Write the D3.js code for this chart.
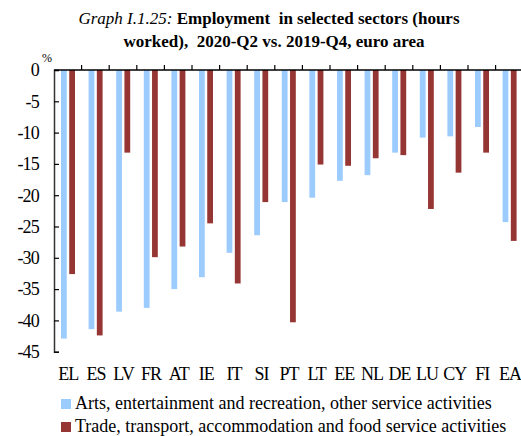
<!DOCTYPE html>
<html>
<head>
<meta charset="utf-8">
<script src="https://cdn.jsdelivr.net/npm/d3@7/dist/d3.min.js"></script>
<style>
  body { margin: 0; background: #fff; }
  svg text { font-family: 'Liberation Serif', Tinos, 'Times New Roman', 'DejaVu Serif', serif; fill: #000; }
</style>
</head>
<body>
<div id="chart"></div>
<script>
// data
const countries = ["EL","ES","LV","FR","AT","IE","IT","SI","PT","LT","EE","NL","DE","LU","CY","FI","EA"];
const arts  = [-42.9,-41.4,-38.6,-38.0,-35.0,-33.1,-29.2,-26.4,-21.1,-20.4,-17.7,-16.8,-13.2,-10.8,-10.6,-9.1,-24.3];
const trade = [-32.6,-42.4,-13.2,-29.9,-28.2,-24.5,-34.1,-21.1,-40.3,-15.1,-15.3,-14.1,-13.6,-22.2,-16.4,-13.2,-27.3];
const yTicks = [0,-5,-10,-15,-20,-25,-30,-35,-40,-45];
const seriesNames = ["Arts, entertainment and recreation, other service activities",
                     "Trade, transport, accommodation and food service activities"];
const keys = ["arts","trade"];
const colours = ["#9ccbfd","#963634"];

const data = countries.map((c, i) => ({ country: c, arts: arts[i], trade: trade[i] }));

const W = 521, H = 436;
const plotLeft = 54, plotTop = 70, plotBottom = 351.7;
const serif = "'Liberation Serif', Tinos, 'Times New Roman', 'DejaVu Serif', serif";

const svg = d3.select("#chart").append("svg")
    .attr("width", W)
    .attr("height", H)
    .attr("font-family", serif);

// title
const title = svg.append("text")
    .attr("text-anchor", "middle")
    .attr("font-family", serif)
    .attr("font-size", 17);
const l1 = title.append("tspan").attr("x", 269).attr("y", 24);
l1.append("tspan").attr("font-style", "italic").text("Graph I.1.25: ");
l1.append("tspan").attr("font-weight", "bold").text("Employment\u00a0 in selected sectors (hours");
title.append("tspan").attr("x", 274).attr("y", 47)
    .attr("font-weight", "bold")
    .text("worked),\u00a0 2020-Q2 vs. 2019-Q4, euro area");

// scales
const x0 = d3.scaleBand()
    .domain(countries)
    .range([plotLeft, plotLeft + countries.length * 27.6])
    .padding(0);

const x1 = d3.scaleBand()
    .domain(keys)
    .range([7, 21])
    .paddingInner(0.3);

const y = d3.scaleLinear()
    .domain([-45, 0])
    .range([plotBottom, plotTop]);

const colour = d3.scaleOrdinal().domain(keys).range(colours);

// bars
const groups = svg.append("g")
    .selectAll("g")
    .data(data)
    .enter().append("g")
    .attr("transform", d => "translate(" + x0(d.country) + ",0)");

groups.selectAll("rect")
    .data(d => keys.map(key => ({ key: key, value: d[key] })))
    .enter().append("rect")
    .attr("x", d => x1(d.key))
    .attr("y", y(0))
    .attr("width", x1.bandwidth())
    .attr("height", d => y(d.value) - y(0))
    .attr("fill", d => colour(d.key));

// y axis
const yAxis = svg.append("g")
    .attr("transform", "translate(" + plotLeft + ",0)")
    .call(d3.axisRight(y).tickValues(yTicks).tickSize(5).tickFormat(""));
yAxis.select(".domain").attr("stroke", "#333").attr("stroke-width", 1.5);
yAxis.selectAll(".tick line").attr("stroke", "#000").attr("stroke-width", 1.2);

svg.append("g")
    .selectAll("text")
    .data(yTicks)
    .enter().append("text")
    .attr("x", 39)
    .attr("y", d => y(d))
    .attr("dy", "0.35em")
    .attr("text-anchor", "end")
    .attr("font-size", 18)
    .attr("letter-spacing", -0.8)
    .text(d => d);

svg.append("text")
    .attr("x", 42)
    .attr("y", 62)
    .attr("font-size", 12)
    .text("%");

// x axis along zero, ticks at category boundaries pointing up
const xAxis = svg.append("g");
xAxis.append("line")
    .attr("x1", plotLeft).attr("x2", W)
    .attr("y1", y(0)).attr("y2", y(0))
    .attr("stroke", "#000").attr("stroke-width", 1.5);
xAxis.selectAll(".xt")
    .data(countries.slice(1))
    .enter().append("line")
    .attr("class", "xt")
    .attr("x1", d => x0(d)).attr("x2", d => x0(d))
    .attr("y1", y(0)).attr("y2", y(0) - 5)
    .attr("stroke", "#000").attr("stroke-width", 1.2);

// category labels below the plot
svg.append("g")
    .selectAll("text")
    .data(countries)
    .enter().append("text")
    .attr("x", d => x0(d) + x0.bandwidth() / 2 + 0.5)
    .attr("y", 380)
    .attr("text-anchor", "middle")
    .attr("font-size", 18)
    .attr("letter-spacing", -1)
    .text(d => d);

// legend
const legend = svg.append("g")
    .selectAll("g")
    .data(keys)
    .enter().append("g")
    .attr("transform", (d, i) => "translate(61," + (399 + i * 23) + ")");

legend.append("rect")
    .attr("width", 10)
    .attr("height", 10)
    .attr("fill", d => colour(d));

legend.append("text")
    .attr("x", 14)
    .attr("y", 10)
    .attr("font-size", 18)
    .text((d, i) => seriesNames[i]);
</script>
</body>
</html>
